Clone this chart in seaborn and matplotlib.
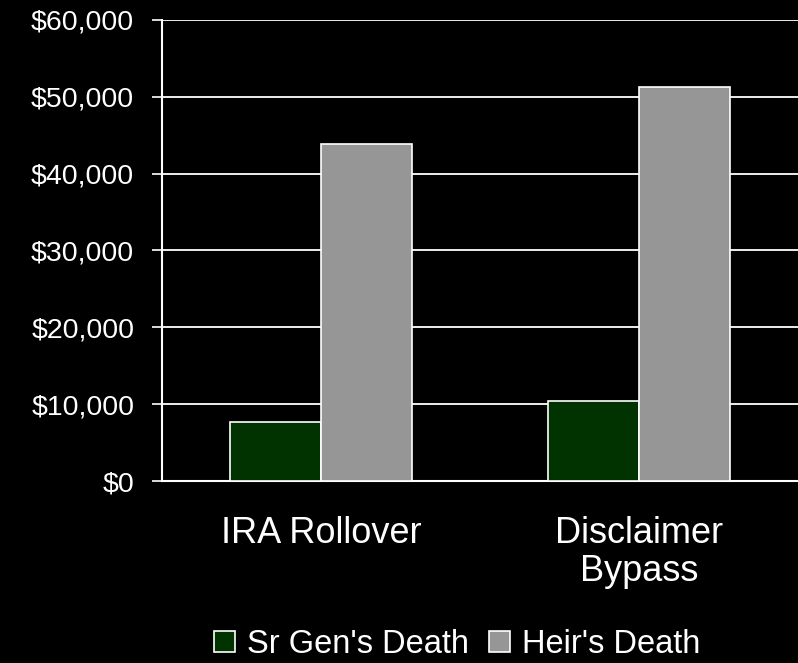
import matplotlib
matplotlib.use("Agg")
import matplotlib.pyplot as plt
import seaborn as sns
import pandas as pd
from matplotlib.ticker import FuncFormatter, FixedLocator

categories = ["IRA Rollover", "Disclaimer\nBypass"]
series = ["Sr Gen's Death", "Heir's Death"]
sr_gen_death = [7700, 10400]
heir_death = [43900, 51300]
colors = ["#003300", "#969696"]

df = pd.DataFrame({
    "category": categories * 2,
    "series": [series[0]] * 2 + [series[1]] * 2,
    "value": sr_gen_death + heir_death,
})

sns.set_style("dark")
plt.rcParams["font.family"] = ["Liberation Sans", "DejaVu Sans"]

fig = plt.figure(figsize=(7.98, 6.63), dpi=100, facecolor="black")
ax = fig.add_axes([0.203, 0.2745, 0.797, 0.6955])
ax.set_facecolor("black")

sns.barplot(data=df, x="category", y="value", hue="series", order=categories,
            hue_order=series, palette=colors, width=0.57, edgecolor="white",
            linewidth=1.2, saturation=1, ax=ax, zorder=3, legend=True)

ax.set_ylim(0, 60000)
ax.set_xlim(-0.5, 1.5)
ax.set_yticks(range(0, 60001, 10000))
ax.yaxis.set_major_formatter(FuncFormatter(lambda v, p: f"${v:,.0f}"))
ax.grid(axis="y", color="white", linewidth=1.3, zorder=0)
ax.grid(axis="x", visible=False)
ax.set_axisbelow(True)

ax.xaxis.set_minor_locator(FixedLocator([-0.5, 0.5, 1.5]))
ax.tick_params(axis="x", which="major", length=0, pad=25, colors="white", labelsize=26)
ax.tick_params(axis="x", which="minor", length=7, width=1.2, color="white", direction="out")
ax.tick_params(axis="y", length=7.5, width=1.2, color="white", labelcolor="white",
               labelsize=20.5, pad=12.5, left=True)
for lbl in ax.get_xticklabels():
    lbl.set_linespacing(1.12)

for side in ["top", "right"]:
    ax.spines[side].set_visible(False)
for side in ["left", "bottom"]:
    ax.spines[side].set_visible(True)
    ax.spines[side].set_color("white")
    ax.spines[side].set_linewidth(1.5)

ax.set_xlabel("")
ax.set_ylabel("")

handles, labels = ax.get_legend_handles_labels()
ax.get_legend().remove()
leg = fig.legend(handles, labels, loc="center", bbox_to_anchor=(0.573, 0.028), ncol=2,
                 frameon=False, fontsize=23.5, handlelength=0.65, handleheight=0.65,
                 handletextpad=0.38, columnspacing=0.6, borderaxespad=0, borderpad=0)
for t in leg.get_texts():
    t.set_color("white")
for h in leg.legend_handles:
    h.set_edgecolor("white")
    h.set_linewidth(1.2)

fig.savefig("out.png", dpi=100, facecolor="black")
